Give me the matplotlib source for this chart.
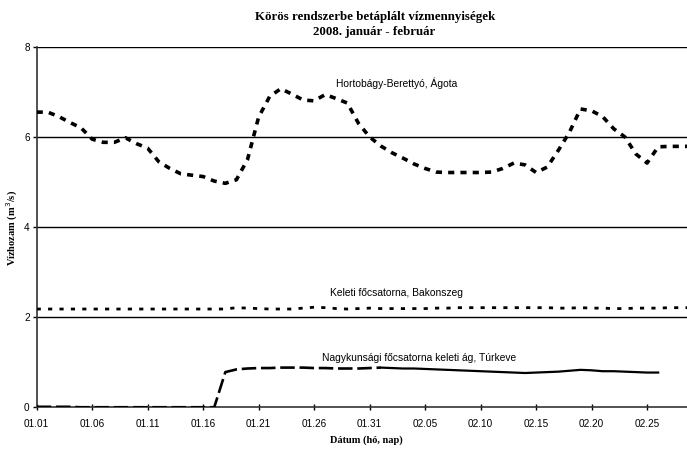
import numpy as np
import matplotlib
matplotlib.use("Agg")
import matplotlib.pyplot as plt

# napi vízhozamok 2008.01.01 - 2008.02.29 (m3/s)
hortobagy = [6.55, 6.55, 6.45, 6.32, 6.20, 5.95, 5.88, 5.88, 5.98, 5.85,
             5.75, 5.45, 5.30, 5.18, 5.15, 5.12, 5.02, 4.97, 5.05, 5.50,
             6.44, 6.90, 7.07, 6.95, 6.82, 6.80, 6.94, 6.85, 6.75, 6.30,
             6.00, 5.80, 5.65, 5.53, 5.40, 5.30, 5.22, 5.21, 5.21, 5.21,
             5.21, 5.22, 5.30, 5.42, 5.38, 5.21, 5.33, 5.70, 6.10, 6.62,
             6.58, 6.45, 6.18, 6.00, 5.62, 5.42, 5.78, 5.79, 5.79, 5.79]
keleti = [2.18, 2.18, 2.18, 2.18, 2.18, 2.18, 2.18, 2.18, 2.18, 2.18,
          2.18, 2.18, 2.18, 2.18, 2.18, 2.18, 2.18, 2.18, 2.21, 2.20,
          2.19, 2.18, 2.18, 2.18, 2.20, 2.22, 2.21, 2.19, 2.18, 2.19,
          2.20, 2.19, 2.19, 2.19, 2.19, 2.19, 2.20, 2.20, 2.21, 2.21,
          2.21, 2.21, 2.21, 2.21, 2.21, 2.21, 2.21, 2.20, 2.20, 2.21,
          2.20, 2.20, 2.19, 2.19, 2.20, 2.20, 2.20, 2.21, 2.21, 2.21]
nagykun = [0.01, 0.01, 0.01, 0.01, 0.0, 0.0, 0.0, 0.0, 0.0, 0.0,
           0.0, 0.0, 0.0, 0.0, 0.0, 0.0, 0.0, 0.78, 0.84, 0.86,
           0.87, 0.87, 0.88, 0.88, 0.88, 0.87, 0.87, 0.86, 0.86, 0.86,
           0.87, 0.88, 0.87, 0.86, 0.86, 0.85, 0.84, 0.83, 0.82, 0.81,
           0.80, 0.79, 0.78, 0.77, 0.76, 0.77, 0.78, 0.79, 0.81, 0.83,
           0.82, 0.80, 0.80, 0.79, 0.78, 0.77, 0.77, np.nan, np.nan, np.nan]
tick_labels = ['01.01', '01.06', '01.11', '01.16', '01.21', '01.26', '01.31',
               '02.05', '02.10', '02.15', '02.20', '02.25']

days = np.arange(len(hortobagy))
nk = np.array(nagykun)

fig = plt.figure(figsize=(6.87, 4.5), dpi=100)
ax = fig.add_axes([0.0534, 0.095, 0.9466, 0.801])

# rácsvonalak
for v in [2, 4, 6, 8]:
    ax.axhline(v, color='black', lw=1.0, zorder=1)

ax.plot(days, hortobagy, color='black', lw=2.6, dashes=(1.7, 1.7),
        solid_capstyle='butt', dash_capstyle='butt', zorder=3)
ax.plot(days, keleti, color='black', lw=2.0, dashes=(1.5, 2.6),
        dash_capstyle='butt', zorder=3)
ax.plot(days[:32], nk[:32], color='black', lw=1.9, dashes=(5.5, 1.8),
        dash_capstyle='butt', zorder=3)
ax.plot(days[31:], nk[31:], color='black', lw=1.6, zorder=3)

# feliratok a görbéknél
ax.text(27.0, 7.18, 'Hortobágy-Berettyó, Ágota', fontsize=7.4,
        family='Liberation Sans', va='center')
ax.text(26.4, 2.53, 'Keleti főcsatorna, Bakonszeg', fontsize=7.4,
        family='Liberation Sans', va='center')
ax.text(25.7, 1.10, 'Nagykunsági főcsatorna keleti ág, Túrkeve', fontsize=7.4,
        family='Liberation Sans', va='center')

ax.set_xlim(0, 58.6)
ax.set_ylim(0, 8)
ax.set_xticks(days[::5])
ax.set_xticklabels(tick_labels)
ax.set_yticks([0, 2, 4, 6, 8])
for lab in ax.get_xticklabels() + ax.get_yticklabels():
    lab.set_family('Liberation Sans')
    lab.set_fontsize(7.2)
ax.tick_params(axis='x', direction='inout', length=5, width=1, pad=6)
ax.tick_params(axis='y', direction='out', length=3, width=1, pad=2)

for s in ['top', 'right']:
    ax.spines[s].set_visible(False)
for s in ['left', 'bottom']:
    ax.spines[s].set_color('#333333')
    ax.spines[s].set_linewidth(1.2)

ax.set_xlabel('Dátum (hó, nap)', family='Liberation Serif', fontweight='bold',
              fontsize=7.5)
ax.xaxis.set_label_coords(0.507, -0.078)
ax.set_ylabel('Vízhozam (m$^3$/s)', family='Liberation Serif', fontweight='bold',
              fontsize=7.5)
ax.yaxis.set_label_coords(-0.025, 0.497)

fig.text(0.546, 0.962, 'Körös rendszerbe betáplált vízmennyiségek',
         family='Liberation Serif', fontweight='bold', fontsize=9.3,
         ha='center', va='center')
fig.text(0.545, 0.928, '2008. január - február',
         family='Liberation Serif', fontweight='bold', fontsize=9.3,
         ha='center', va='center')

fig.savefig('out.png', dpi=100)
